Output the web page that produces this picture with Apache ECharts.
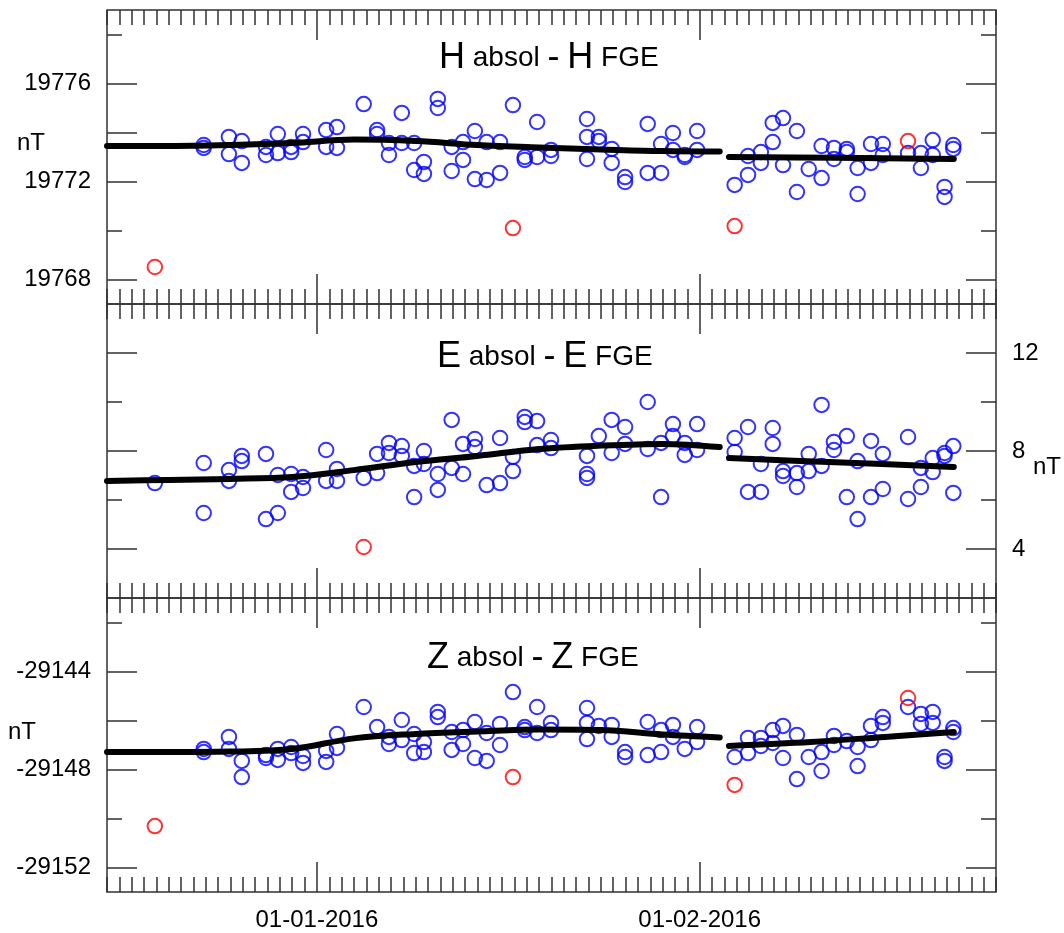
<!DOCTYPE html>
<html>
<head>
<meta charset="utf-8">
<script src="https://cdn.jsdelivr.net/npm/echarts@6/dist/echarts.min.js"></script>
<style>
  html, body { margin: 0; padding: 0; background: #ffffff; }
  #chart { width: 1064px; height: 933px; }
</style>
</head>
<body>
<div id="chart"></div>
<script>
// Absolute-measurement sessions (UTC), shared by the three components
const sessionTimes = [
  '2015-12-18 21:00', '2015-12-22 20:00', '2015-12-24 21:00', '2015-12-25 22:00', '2015-12-27 21:00',
  '2015-12-28 20:00', '2015-12-29 22:00', '2015-12-30 21:00', '2016-01-01 18:00', '2016-01-02 15:00',
  '2016-01-04 19:00', '2016-01-05 21:00', '2016-01-06 20:00', '2016-01-07 21:00', '2016-01-08 21:00',
  '2016-01-09 16:00', '2016-01-10 19:00', '2016-01-11 22:00', '2016-01-12 20:00', '2016-01-13 19:00',
  '2016-01-14 18:00', '2016-01-15 20:00', '2016-01-16 21:00', '2016-01-17 20:00', '2016-01-18 20:00',
  '2016-01-19 23:00', '2016-01-22 21:00', '2016-01-23 20:00', '2016-01-24 21:00', '2016-01-25 23:00',
  '2016-01-27 19:00', '2016-01-28 21:00', '2016-01-29 20:00', '2016-01-30 19:00', '2016-01-31 19:00',
  '2016-02-03 20:00', '2016-02-04 22:00', '2016-02-05 23:00', '2016-02-06 22:00', '2016-02-07 18:00',
  '2016-02-08 21:00', '2016-02-09 20:00', '2016-02-10 21:00', '2016-02-11 21:00', '2016-02-12 22:00',
  '2016-02-13 19:00', '2016-02-14 21:00', '2016-02-15 20:00', '2016-02-17 21:00', '2016-02-18 22:00',
  '2016-02-19 21:00', '2016-02-20 20:00', '2016-02-21 13:00'
];

// H absol - H FGE (nT), accepted values per session
const hAccepted = [
  [], [19773.49, 19773.37], [19773.82, 19773.12], [19773.65, 19772.76], [19773.41, 19773.08],
  [19773.94, 19773.16], [19773.41, 19773.20], [19773.94, 19773.61], [19774.10, 19773.41], [19774.22, 19773.37],
  [19775.16], [19774.10, 19773.94], [19773.57, 19773.08], [19774.80, 19773.57], [19773.57, 19772.47],
  [19772.80, 19772.31], [19775.37, 19775.00], [19773.41, 19772.43], [19773.61, 19772.88], [19774.06, 19772.10],
  [19773.61, 19772.06], [19773.61, 19772.35], [19775.12], [19772.88, 19773.00], [19774.43, 19773.00],
  [19773.29, 19773.04], [19774.55, 19773.82, 19772.92], [19773.82, 19773.65], [19773.33, 19772.76], [19772.18, 19771.98],
  [19774.35, 19772.35], [19773.53, 19772.35], [19773.98, 19773.29], [19773.08, 19773.00], [19774.06, 19773.29],
  [19771.86], [19773.04, 19772.27], [19773.20, 19772.76], [19774.39, 19773.61], [19774.59, 19772.67],
  [19774.06, 19771.57], [19772.51], [19773.45, 19772.14], [19773.37, 19772.92], [19773.33, 19773.20],
  [19772.55, 19771.49], [19773.53, 19772.76], [19773.53, 19773.08], [19773.16], [19773.16, 19772.55],
  [19773.69, 19773.08], [19771.78, 19771.37], [19773.49, 19773.33]
];
const hRejected = [
  ['2015-12-18 21:00', 19768.51], ['2016-01-16 21:00', 19770.10],
  ['2016-02-03 20:00', 19770.18], ['2016-02-17 21:00', 19773.65]
];
const hBaselineA = [
  ['2015-12-15 00:00', 19773.45], ['2015-12-20 00:00', 19773.45], ['2015-12-25 00:00', 19773.49],
  ['2015-12-30 00:00', 19773.57], ['2016-01-04 00:00', 19773.71], ['2016-01-09 00:00', 19773.65],
  ['2016-01-14 00:00', 19773.49], ['2016-01-19 00:00', 19773.39], ['2016-01-24 00:00', 19773.31],
  ['2016-01-29 00:00', 19773.24], ['2016-02-02 15:00', 19773.22]
];
const hBaselineB = [
  ['2016-02-03 09:00', 19773.00], ['2016-02-12 00:00', 19772.97], ['2016-02-21 14:00', 19772.92]
];

// E absol - E FGE (nT)
const eAccepted = [
  [6.69], [7.51, 5.47], [7.22, 6.78], [7.80, 7.59], [7.88, 5.22],
  [7.02, 5.47], [7.06, 6.33], [6.94, 6.49], [8.04, 6.78], [7.27, 6.78],
  [6.90], [7.88, 7.10], [8.33, 7.92], [8.20, 7.80], [7.39, 6.12],
  [8.00, 7.47], [7.06, 6.41], [9.27, 7.31], [8.29, 7.06], [8.49, 8.16],
  [6.61], [8.53, 6.69], [7.76, 7.18], [9.39, 9.18], [9.22, 8.24],
  [8.45, 8.12], [7.80, 7.06, 6.90], [8.61], [9.27, 7.92], [8.98, 8.29],
  [10.00, 8.08], [8.33, 6.12], [9.10, 8.61], [8.33, 7.84], [9.10, 8.04],
  [8.53, 7.96], [8.98, 6.33], [7.47, 6.33], [8.94, 8.29], [7.18, 6.98],
  [7.10, 6.53], [7.88, 7.18], [9.88, 7.39], [8.37, 8.04], [8.61, 6.12],
  [7.59, 5.22], [8.41, 6.12], [7.88, 6.45], [8.57, 6.04], [7.31, 6.53],
  [7.71, 7.14], [7.92, 7.80], [8.20, 6.29]
];
const eRejected = [['2016-01-04 19:00', 4.08]];
const eBaselineA = [
  ['2015-12-15 00:00', 6.78], ['2015-12-20 00:00', 6.82], ['2015-12-25 00:00', 6.86],
  ['2015-12-30 00:00', 6.94], ['2016-01-04 00:00', 7.22], ['2016-01-09 00:00', 7.55],
  ['2016-01-14 00:00', 7.80], ['2016-01-19 00:00', 8.08], ['2016-01-24 00:00', 8.22],
  ['2016-01-29 00:00', 8.29], ['2016-02-02 15:00', 8.16]
];
const eBaselineB = [
  ['2016-02-03 09:00', 7.71], ['2016-02-12 00:00', 7.54], ['2016-02-21 14:00', 7.35]
];

// Z absol - Z FGE (nT)
const zAccepted = [
  [], [-29147.16, -29147.29], [-29146.67, -29147.16], [-29147.65, -29148.31], [-29147.41, -29147.53],
  [-29147.16, -29147.61], [-29147.08, -29147.33], [-29147.45, -29147.73], [-29147.24, -29147.69], [-29146.55, -29147.12],
  [-29145.45], [-29146.27], [-29146.67, -29146.96], [-29145.98, -29146.80], [-29146.55, -29147.33],
  [-29146.88, -29147.29], [-29145.65, -29145.86], [-29146.47, -29147.20], [-29146.39, -29146.96], [-29146.06, -29147.53],
  [-29146.51, -29147.65], [-29146.14, -29147.00], [-29144.84], [-29146.27, -29146.39], [-29145.45, -29146.51],
  [-29146.10, -29146.39], [-29145.49, -29146.10, -29146.76], [-29146.22], [-29146.18, -29146.67], [-29147.29, -29147.49],
  [-29146.06, -29147.41], [-29146.39, -29147.29], [-29146.18, -29146.67], [-29147.16], [-29146.27, -29146.88],
  [-29147.49], [-29146.71, -29147.33], [-29146.71, -29147.04], [-29146.39, -29146.92], [-29146.22, -29147.53],
  [-29146.59, -29148.39], [-29147.49], [-29147.29, -29148.06], [-29146.63, -29147.00], [-29146.84],
  [-29147.08, -29147.86], [-29146.22, -29146.80], [-29145.86, -29146.10], [-29145.45], [-29145.73, -29146.14],
  [-29145.65, -29146.10], [-29147.49, -29147.65], [-29146.31, -29146.47]
];
const zRejected = [
  ['2015-12-18 21:00', -29150.31], ['2016-01-16 21:00', -29148.31],
  ['2016-02-03 20:00', -29148.63], ['2016-02-17 21:00', -29145.08]
];
const zBaselineA = [
  ['2015-12-15 00:00', -29147.29], ['2015-12-20 00:00', -29147.29], ['2015-12-25 00:00', -29147.27],
  ['2015-12-30 00:00', -29147.16], ['2016-01-04 00:00', -29146.73], ['2016-01-09 00:00', -29146.55],
  ['2016-01-14 00:00', -29146.45], ['2016-01-19 00:00', -29146.37], ['2016-01-24 00:00', -29146.39],
  ['2016-01-29 00:00', -29146.57], ['2016-02-02 15:00', -29146.69]
];
const zBaselineB = [
  ['2016-02-03 09:00', -29147.04], ['2016-02-10 00:00', -29146.88],
  ['2016-02-16 00:00', -29146.67], ['2016-02-21 14:00', -29146.47]
];

// Axis ranges and tick labels
const xRange = ['2015-12-15 00:00', '2016-02-25 00:00'];
const xMajorDates = ['2016-01-01 00:00', '2016-02-01 00:00'];
const xMajorLabels = ['01-01-2016', '01-02-2016'];

const hRange = [19767, 19779];
const hTicksLong = [19768, 19772, 19774, 19776];
const hTicksShort = [19770, 19778];
const hTicksLongRight = [19768, 19772, 19776];
const hTicksShortRight = [19770, 19774, 19778];
const hTickLabels = [19768, 19772, 19776];

const eRange = [2, 14];
const eTicksLong = [4, 8, 12];
const eTicksShort = [6, 10];
const eTickLabels = [4, 8, 12];

const zRange = [-29153, -29141];
const zTicksLong = [-29152, -29148, -29146, -29144];
const zTicksShort = [-29150, -29142];
const zTicksLongRight = [-29152, -29148, -29144];
const zTicksShortRight = [-29150, -29146, -29142];
const zTickLabels = [-29152, -29148, -29144];

// ---------------------------------------------------------------
const toMs = s => Date.parse(s.replace(' ', 'T') + ':00Z');
const DAY = 86400000;
const FONT = "'Liberation Sans', Arial, sans-serif";
const TICK_COLOR = '#303030';

function flatten(times, perSession) {
  const out = [];
  perSession.forEach((vals, i) => vals.forEach(v => out.push([toMs(times[i]), v])));
  return out;
}
const pairs = arr => arr.map(p => [toMs(p[0]), p[1]]);

const panels = [
  { range: hRange, leftLong: hTicksLong, leftShort: hTicksShort, rightLong: hTicksLongRight,
    rightShort: hTicksShortRight, leftLabels: hTickLabels, rightLabels: [],
    accepted: flatten(sessionTimes, hAccepted), rejected: pairs(hRejected),
    baseA: pairs(hBaselineA), baseB: pairs(hBaselineB) },
  { range: eRange, leftLong: eTicksLong, leftShort: eTicksShort, rightLong: eTicksLong,
    rightShort: eTicksShort, leftLabels: [], rightLabels: eTickLabels,
    accepted: flatten(sessionTimes, eAccepted), rejected: pairs(eRejected),
    baseA: pairs(eBaselineA), baseB: pairs(eBaselineB) },
  { range: zRange, leftLong: zTicksLong, leftShort: zTicksShort, rightLong: zTicksLongRight,
    rightShort: zTicksShortRight, leftLabels: zTickLabels, rightLabels: [],
    accepted: flatten(sessionTimes, zAccepted), rejected: pairs(zRejected),
    baseA: pairs(zBaselineA), baseB: pairs(zBaselineB) }
];

const PLOT_LEFT = 107, PLOT_RIGHT = 68, PLOT_TOP = 10, PANEL_H = 294;
const xMin = toMs(xRange[0]), xMax = toMs(xRange[1]);
const majorMs = xMajorDates.map(toMs);

const grid = [], xAxis = [], yAxis = [], series = [];

function tickStyle(len) {
  return { show: true, inside: true, length: len, lineStyle: { color: TICK_COLOR, width: 1.5 } };
}

panels.forEach((p, g) => {
  grid.push({
    left: PLOT_LEFT, right: PLOT_RIGHT, top: PLOT_TOP + g * PANEL_H, height: PANEL_H,
    show: true, borderColor: TICK_COLOR, borderWidth: 1.5, backgroundColor: 'transparent'
  });

  const xBase = { type: 'value', gridIndex: g, min: xMin, max: xMax, splitLine: { show: false },
    axisLine: { show: false, onZero: false } };
  const xIdx = xAxis.length;
  // daily ticks, bottom and top edges
  xAxis.push(Object.assign({}, xBase, { position: 'bottom', interval: DAY,
    axisTick: tickStyle(15), axisLabel: { show: false } }));
  xAxis.push(Object.assign({}, xBase, { position: 'top', interval: DAY,
    axisTick: tickStyle(15), axisLabel: { show: false } }));
  // month ticks, bottom and top edges
  const lastPanel = g === panels.length - 1;
  xAxis.push(Object.assign({}, xBase, { position: 'bottom',
    axisTick: Object.assign(tickStyle(30), { customValues: majorMs }),
    axisLabel: { show: lastPanel, customValues: majorMs, margin: 16,
      color: '#000', fontFamily: FONT, fontSize: 24,
      formatter: v => xMajorLabels[majorMs.indexOf(v)] || '' } }));
  xAxis.push(Object.assign({}, xBase, { position: 'top',
    axisTick: Object.assign(tickStyle(30), { customValues: majorMs }), axisLabel: { show: false } }));

  const yBase = { type: 'value', gridIndex: g, min: p.range[0], max: p.range[1],
    splitLine: { show: false }, axisLine: { show: false, onZero: false } };
  const labelStyle = (vals) => ({ show: vals.length > 0, customValues: vals, margin: 16,
    color: '#000', fontFamily: FONT, fontSize: 24, formatter: v => String(v) });
  const yIdx = yAxis.length;
  yAxis.push(Object.assign({}, yBase, { position: 'left',
    axisTick: Object.assign(tickStyle(30), { customValues: p.leftLong }), axisLabel: labelStyle(p.leftLabels) }));
  yAxis.push(Object.assign({}, yBase, { position: 'left',
    axisTick: Object.assign(tickStyle(15), { customValues: p.leftShort }), axisLabel: { show: false } }));
  yAxis.push(Object.assign({}, yBase, { position: 'right',
    axisTick: Object.assign(tickStyle(30), { customValues: p.rightLong }), axisLabel: labelStyle(p.rightLabels) }));
  yAxis.push(Object.assign({}, yBase, { position: 'right',
    axisTick: Object.assign(tickStyle(15), { customValues: p.rightShort }), axisLabel: { show: false } }));

  const scatter = (data, color) => ({
    type: 'scatter', xAxisIndex: xIdx, yAxisIndex: yIdx, data, z: 2, silent: true,
    symbol: 'circle', symbolSize: 14.5,
    itemStyle: { color: 'rgba(255,255,255,0)', borderColor: color, borderWidth: 2 }
  });
  const baseline = (data) => ({
    type: 'line', xAxisIndex: xIdx, yAxisIndex: yIdx, data, z: 3, silent: true,
    smooth: 0.35, showSymbol: false, symbol: 'none',
    lineStyle: { color: '#000', width: 6, cap: 'round', join: 'round' }
  });
  series.push(scatter(p.accepted, '#0000ff'));
  series.push(scatter(p.rejected, '#ff0000'));
  series.push(baseline(p.baseA));
  series.push(baseline(p.baseB));
});

// Panel headings: component letter large, the words smaller
const rich = {
  b: { fontSize: 36, fontFamily: FONT, fontWeight: 'normal', color: '#000', lineHeight: 40 },
  s: { fontSize: 28, fontFamily: FONT, fontWeight: 'normal', color: '#000', lineHeight: 40 }
};
const headings = [
  { text: '{b|H}{s| absol }{b|-}{s| }{b|H}{s| FGE}', left: 439, top: 38 },
  { text: '{b|E}{s| absol }{b|-}{s| }{b|E}{s| FGE}', left: 437, top: 337 },
  { text: '{b|Z}{s| absol }{b|-}{s| }{b|Z}{s| FGE}', left: 427, top: 638 }
];
const title = headings.map(h => ({
  text: h.text, left: h.left, top: h.top, padding: 0,
  textStyle: { rich, fontFamily: FONT, fontWeight: 'normal' }
}));

const unitStyle = { fill: '#000', font: "24px 'Liberation Sans', Arial, sans-serif" };
const graphic = [
  { type: 'text', left: 17, top: 131, style: Object.assign({ text: 'nT' }, unitStyle) },
  { type: 'text', left: 1033, top: 455, style: Object.assign({ text: 'nT' }, unitStyle) },
  { type: 'text', left: 8, top: 720, style: Object.assign({ text: 'nT' }, unitStyle) }
];

const chart = echarts.init(document.getElementById('chart'), null, { renderer: 'canvas' });
chart.setOption({
  backgroundColor: '#ffffff',
  animation: false,
  title, grid, xAxis, yAxis, series, graphic
});
</script>
</body>
</html>
